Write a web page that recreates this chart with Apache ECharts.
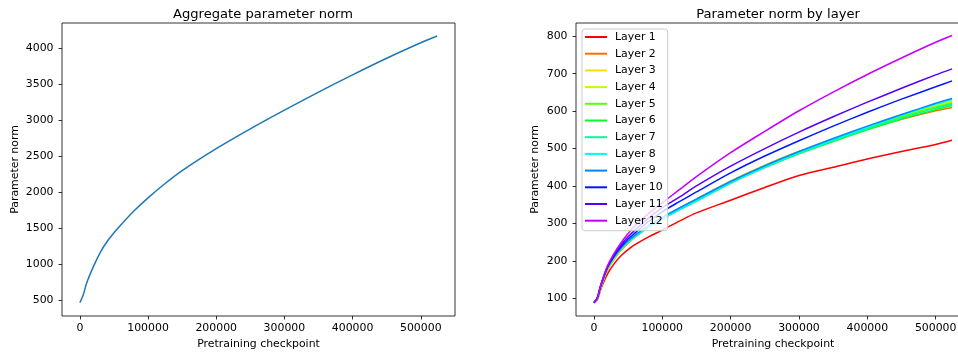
<!DOCTYPE html>
<html>
<head>
<meta charset="utf-8">
<script src="https://cdn.jsdelivr.net/npm/echarts@6/dist/echarts.min.js"></script>
<style>
  html, body { margin: 0; padding: 0; background: #fff; }
  #chart { width: 958px; height: 353px; }
</style>
</head>
<body>
<div id="chart"></div>
<script>
// checkpoints shared by both panels
const checkpoints = [0, 5000, 10000, 20000, 30000, 40000, 50000, 60000, 80000, 100000,
  125000, 150000, 200000, 250000, 300000, 350000, 400000, 450000, 500000, 524000];

// left panel: aggregate norm
const aggregateNorm = [470, 580, 745, 975, 1170, 1320, 1440, 1550, 1750, 1925,
  2125, 2305, 2610, 2885, 3145, 3395, 3635, 3865, 4080, 4175];

// right panel: norm per layer
const layerNames = ['Layer 1', 'Layer 2', 'Layer 3', 'Layer 4', 'Layer 5', 'Layer 6',
  'Layer 7', 'Layer 8', 'Layer 9', 'Layer 10', 'Layer 11', 'Layer 12'];
const layer1 = [88, 96, 124, 165, 193, 214, 230, 243, 264, 282, 306, 328, 362, 396, 428, 450, 472, 492, 511, 522];
const layer2 = [88, 97, 127, 175, 205, 229, 247, 263, 290, 313, 340, 365, 413, 455, 492, 523, 552, 578, 601, 610];
const layer3 = [88, 98, 129, 177, 207, 231, 249, 264, 291, 314, 340, 365, 413, 455, 492, 525, 556, 586, 612, 624];
const layer4 = [88, 99, 130, 178, 208, 232, 250, 265, 292, 314, 340, 364, 412, 454, 491, 525, 557, 588, 615, 627];
const layer5 = [88, 100, 131, 179, 209, 232, 250, 265, 291, 313, 338, 362, 410, 452, 489, 523, 555, 585, 611, 622];
const layer6 = [88, 100, 132, 180, 210, 233, 250, 265, 290, 312, 337, 360, 408, 449, 486, 519, 550, 579, 604, 615];
const layer7 = [88, 101, 133, 181, 210, 233, 250, 264, 290, 311, 336, 359, 407, 449, 487, 521, 553, 582, 608, 619];
const layer8 = [88, 101, 133, 181, 211, 234, 251, 265, 291, 312, 337, 361, 409, 451, 489, 524, 557, 589, 618, 631];
const layer9 = [88, 101, 134, 182, 212, 235, 253, 268, 294, 316, 341, 365, 412, 454, 492, 527, 560, 591, 621, 634];
const layer10 = [88, 100, 133, 183, 214, 238, 258, 274, 305, 331, 358, 384, 435, 480, 521, 560, 597, 632, 665, 681];
const layer11 = [88, 101, 134, 185, 217, 243, 264, 282, 314, 342, 370, 400, 453, 500, 544, 585, 624, 661, 697, 713];
const layer12 = [88, 101, 135, 187, 221, 249, 273, 294, 326, 355, 390, 425, 489, 546, 601, 651, 698, 742, 784, 802];
const layerValues = [layer1, layer2, layer3, layer4, layer5, layer6, layer7, layer8, layer9, layer10, layer11, layer12];
const layerColors = ['#ff0000', '#ff6f00', '#ffdd00', '#bfff00', '#5aff00', '#00ff2b',
  '#00ff99', '#00f7ff', '#0088ff', '#0019ff', '#5500ff', '#c400ff'];

// tick labels
const xTicks = [0, 100000, 200000, 300000, 400000, 500000];
const leftYTicks = [500, 1000, 1500, 2000, 2500, 3000, 3500, 4000];
const rightYTicks = [100, 200, 300, 400, 500, 600, 700, 800];

const FONT = 'DejaVu Sans';
const SMALL = 10.9;
const BIG = 13.1;

const pair = (ys) => checkpoints.map((x, i) => [x, ys[i]]);

function xAxisFor(gridIndex) {
  return {
    type: 'value', gridIndex,
    min: -26200, max: 550200,
    name: 'Pretraining checkpoint', nameLocation: 'middle', nameGap: 20,
    nameTextStyle: { fontFamily: FONT, fontSize: SMALL, color: '#000' },
    axisLine: { show: false, onZero: false },
    axisTick: { show: true, length: 3.5, lineStyle: { color: '#000', width: 0.8 }, customValues: xTicks },
    axisLabel: { fontFamily: FONT, fontSize: SMALL, color: '#000', margin: 6.5, customValues: xTicks,
      formatter: (v) => String(v) },
    splitLine: { show: false }
  };
}

function yAxisFor(gridIndex, min, max, ticks, gap) {
  return {
    type: 'value', gridIndex, min, max,
    name: 'Parameter norm', nameLocation: 'middle', nameGap: gap,
    nameTextStyle: { fontFamily: FONT, fontSize: SMALL, color: '#000' },
    axisLine: { show: false, onZero: false },
    axisTick: { show: true, length: 3.5, lineStyle: { color: '#000', width: 0.8 }, customValues: ticks },
    axisLabel: { fontFamily: FONT, fontSize: SMALL, color: '#000', margin: 8.5, customValues: ticks,
      formatter: (v) => String(v) },
    splitLine: { show: false }
  };
}

const chart = echarts.init(document.getElementById('chart'), null, { renderer: 'canvas' });

const layerSeries = layerNames.map((name, i) => ({
  name, type: 'line', xAxisIndex: 1, yAxisIndex: 1,
  data: pair(layerValues[i]),
  smooth: 0.3, showSymbol: false, symbol: 'none',
  lineStyle: { color: layerColors[i], width: 1.5 },
  itemStyle: { color: layerColors[i] },
  z: 2
}));

const option = {
  animation: false,
  title: [
    { text: 'Aggregate parameter norm', left: 258, top: 3, textAlign: 'center',
      textStyle: { fontFamily: FONT, fontSize: BIG, fontWeight: 'normal', color: '#000' } },
    { text: 'Parameter norm by layer', left: 773, top: 3, textAlign: 'center',
      textStyle: { fontFamily: FONT, fontSize: BIG, fontWeight: 'normal', color: '#000' } }
  ],
  grid: [
    { left: 62, top: 23, width: 393, height: 293, outerBoundsMode: 'none', containLabel: false,
      show: true, borderColor: '#000', borderWidth: 0.8, backgroundColor: 'transparent' },
    { left: 576, top: 23, width: 394, height: 293, outerBoundsMode: 'none', containLabel: false,
      show: true, borderColor: '#000', borderWidth: 0.8, backgroundColor: 'transparent' }
  ],
  xAxis: [xAxisFor(0), xAxisFor(1)],
  yAxis: [
    yAxisFor(0, 285, 4355, leftYTicks, 41),
    yAxisFor(1, 52.4, 835.6, rightYTicks, 35)
  ],
  legend: {
    data: layerNames,
    orient: 'vertical',
    left: 582, top: 29,
    icon: 'rect', itemWidth: 22, itemHeight: 2, itemGap: 3.7,
    padding: [1.5, 5, 3.5, 3],
    backgroundColor: 'rgba(255,255,255,0.8)',
    borderColor: '#cccccc', borderWidth: 1, borderRadius: 3,
    textStyle: { fontFamily: FONT, fontSize: SMALL, color: '#000', lineHeight: 13, padding: [0, 0, 0, 3] },
    z: 10
  },
  series: [
    {
      name: 'Aggregate', type: 'line', xAxisIndex: 0, yAxisIndex: 0,
      data: pair(aggregateNorm),
      smooth: 0.3, showSymbol: false, symbol: 'none',
      lineStyle: { color: '#1f77b4', width: 1.5 }
    },
    ...layerSeries
  ]
};

chart.setOption(option);
</script>
</body>
</html>
